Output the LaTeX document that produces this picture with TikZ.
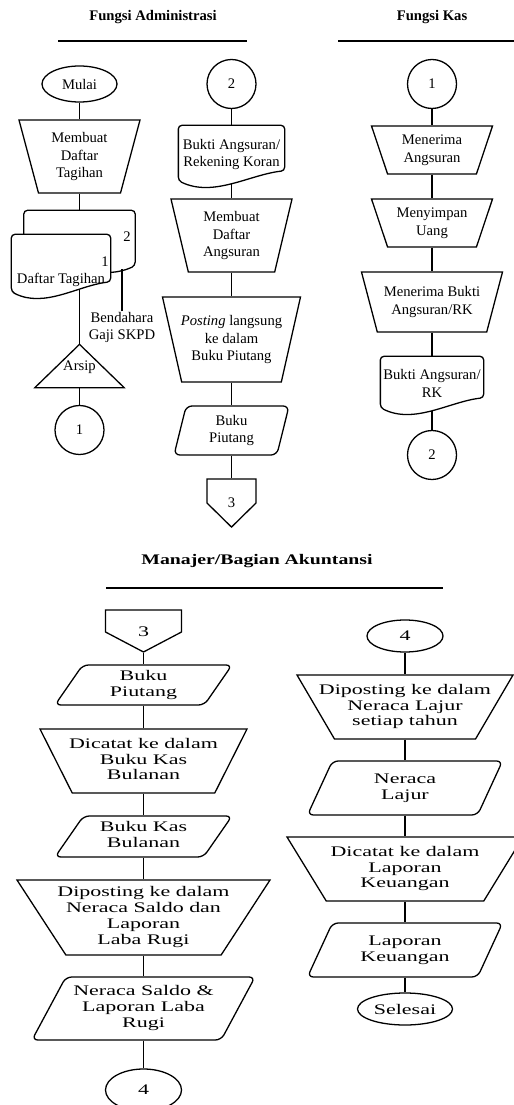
\documentclass[tikz,border=0pt]{standalone}
\usepackage{fontspec}
\setmainfont{Liberation Serif}
\newfontfamily\widefont{Liberation Serif}[FakeStretch=1.5]
\newfontfamily\widetitle{Liberation Serif}[FakeStretch=1.35]
\usepackage{tikz}
\usetikzlibrary{calc}
\usetikzlibrary{shapes.geometric,shapes.symbols,positioning}

\newcommand{\upfont}{\fontsize{12.5}{15}\selectfont}
\newcommand{\lowfont}{\widefont\fontsize{12.5}{13.5}\selectfont}
\newcommand{\lbl}[1]{\makebox[0pt]{\begin{tabular}{@{}c@{}}#1\end{tabular}}}

\begin{document}
\begin{tikzpicture}[x=0.03cm,y=-0.03cm,line width=1.1pt,
    every node/.style={font=\upfont,inner sep=0pt},
    term node/.style={ellipse,draw},
    link node/.style={circle,draw,minimum size=1.47cm},
    proc node/.style={trapezium,draw,shape border rotate=180,trapezium stretches body,
      trapezium left angle=#1,trapezium right angle=#1},
    store node/.style={rectangle,append after command={\pgfextra{
      \draw (\tikzlastnode.south west) -- (\tikzlastnode.north)
        -- (\tikzlastnode.south east) -- cycle;}}},
    data node/.style 2 args={trapezium,draw,rounded corners=5pt,trapezium stretches body,
      trapezium left angle=#1,trapezium right angle=#2},
    page node/.style={signal,draw,signal to=south,signal pointer angle=#1},
    doc shape/.style 2 args={append after command={\pgfextra{
      \draw[fill=white,rounded corners=3pt]
        ([yshift=2.5pt]\tikzlastnode.south #1)
        .. controls ($(\tikzlastnode.south #1)!0.33!(\tikzlastnode.south #2)+(0,-12pt)$)
        and ($(\tikzlastnode.south #1)!0.67!(\tikzlastnode.south #2)+(0,7.7pt)$)
        .. ([yshift=11pt]\tikzlastnode.south #2) -- (\tikzlastnode.north #2)
        -- (\tikzlastnode.north #1) -- cycle;}}},
    doc node/.style={align=center,doc shape={west}{east}},
    doc back/.style={doc shape={east}{west}}]

  \useasboundingbox (0,0) rectangle (514,1105);
  \clip (0,0) rectangle (514,1105);

  % Fungsi Administrasi / Fungsi Kas
  \node[font=\upfont\bfseries] (hadm) at (153,17) {Fungsi Administrasi};
  \node[font=\upfont\bfseries] (hkas) at (432,17) {Fungsi Kas};
  \draw[line width=1.4pt] (58,41) -- (247,41);
  \draw[line width=1.4pt] (338,41) -- (514,41);

  \node[term node,minimum width=2.25cm,minimum height=1.08cm] (mulai) at (79.5,84) {Mulai};
  \node[proc node=69.7,minimum width=3.63cm,minimum height=2.19cm] (tagih) at (79.5,156.5) {\lbl{Membuat\\Daftar\\Tagihan}};
  \node[doc back,minimum width=3.3cm,minimum height=1.71cm] (tagih2) at (79.5,239.5) {};
  \node[doc node,minimum width=2.94cm,text height=1.47cm,text depth=0.3cm] (tagih1) at (61,264.5) {Daftar Tagihan};
  \node (no2) at (127,237) {2};
  \node (no1) at (105,262) {1};
  \node[align=center] (bend) at (122,327.5) {Bendahara\\Gaji SKPD};
  \node[store node,minimum width=2.64cm,minimum height=1.26cm,text depth=0pt] (arsip) at (79.5,366) {Arsip};
  \node[link node] (k1a) at (79.5,430) {1};

  \node[link node] (k2a) at (231.5,84) {2};
  \node[doc node,minimum width=3.15cm,minimum height=1.71cm] (bukti) at (231.5,154.5) {Bukti Angsuran/\\Rekening Koran};
  \node[proc node=71.8,minimum width=3.63cm,minimum height=2.19cm] (angsur) at (231.5,235.5) {\lbl{Membuat\\Daftar\\Angsuran}};
  \node[proc node=70,minimum width=4.14cm,minimum height=2.55cm] (posting) at (231.5,339.5) {\lbl{\textit{Posting} langsung\\ke dalam\\Buku Piutang}};
  \node[data node={70.9}{109.1},minimum width=3.45cm,minimum height=1.47cm] (piutang) at (231.5,430.5) {\lbl{Buku\\Piutang}};
  \node[page node=91,minimum width=1.47cm,minimum height=0.72cm,
        label={[name=p3a,yshift=-0.36cm]center:3}] (hal3a) at (231.5,491) {};

  \node[link node] (k1b) at (432,84) {1};
  \node[proc node=65.4,minimum width=3.63cm,minimum height=1.44cm] (terima) at (432,150) {\lbl{Menerima\\Angsuran}};
  \node[proc node=65.4,minimum width=3.63cm,minimum height=1.44cm] (simpan) at (432,223) {\lbl{Menyimpan\\Uang}};
  \node[proc node=65.8,minimum width=4.23cm,minimum height=1.8cm] (terimab) at (432,302) {\lbl{Menerima Bukti\\Angsuran/RK}};
  \node[doc node,minimum width=3.06cm,minimum height=1.59cm] (bukti2) at (432,383.5) {Bukti Angsuran/\\RK};
  \node[link node] (k2b) at (432,455) {2};

  \path[draw]
    (mulai) edge (tagih)
    (tagih) edge (tagih2)
    (k2a) edge (bukti)
    (bukti) edge (angsur)
    (angsur) edge (posting)
    (posting) edge (piutang)
    (piutang) edge (hal3a)
    (k1b) edge (terima)
    (terima) edge (simpan)
    (simpan) edge (terimab)
    (terimab) edge (bukti2)
    (bukti2) edge (k2b);
  \draw (arsip.south) -- (k1a.north);
  \draw (arsip.north) -- ($(arsip.north |- tagih1.south)+(0,5pt)$);
  \draw (bend.north) -- (bend.north |- tagih2.south);

  % Manajer/Bagian Akuntansi
  \node[font=\widetitle\fontsize{12.5}{15}\selectfont\bfseries] (hman) at (257,561) {Manajer/Bagian Akuntansi};
  \draw[line width=1.4pt] (106,588) -- (443,588);

  \begin{scope}[every node/.append style={font=\lowfont}]
  \node[page node=124.5,minimum width=2.28cm,minimum height=0.66cm,
        label={[name=p3b,yshift=-0.33cm]center:3}] (hal3b) at (143.5,621) {};
  \node[data node={48.8}{131.2},minimum width=5.31cm,minimum height=1.2cm] (piutang2) at (143.5,685) {\lbl{Buku\\Piutang}};
  \node[proc node=55.8,minimum width=6.21cm,minimum height=1.92cm] (kas) at (143.5,761) {\lbl{Dicatat ke dalam\\Buku Kas\\Bulanan}};
  \node[data node={48}{132},minimum width=5.31cm,minimum height=1.23cm] (bukukas) at (143.5,836.5) {\lbl{Buku Kas\\Bulanan}};
  \node[proc node=52.3,minimum width=7.59cm,minimum height=2.25cm] (saldo) at (143.5,917.5) {\lbl{Diposting ke dalam\\Neraca Saldo dan\\Laporan\\Laba Rugi}};
  \node[data node={54.5}{125.5},minimum width=6.69cm,minimum height=1.89cm] (neraca) at (143.5,1008.5) {\lbl{Neraca Saldo \&\\Laporan Laba\\Rugi}};
  \node[term node,minimum width=2.28cm,minimum height=1.26cm] (k4a) at (143.5,1090) {4};

  \node[term node,minimum width=2.28cm,minimum height=0.96cm] (k4b) at (405,636) {4};
  \node[proc node=51.7,minimum width=6.48cm,minimum height=1.92cm] (lajur) at (405,707) {\lbl{Diposting ke dalam\\Neraca Lajur\\setiap tahun}};
  \node[data node={51.8}{128.2},minimum width=5.85cm,minimum height=1.62cm] (nlajur) at (405,788) {\lbl{Neraca\\Lajur}};
  \node[proc node=50.4,minimum width=7.08cm,minimum height=1.92cm] (lapor) at (405,869) {\lbl{Dicatat ke dalam\\Laporan\\Keuangan}};
  \node[data node={51.8}{128.2},minimum width=5.85cm,minimum height=1.62cm] (lapkeu) at (405,950) {\lbl{Laporan\\Keuangan}};
  \node[term node,minimum width=2.85cm,minimum height=0.96cm] (selesai) at (405,1009) {Selesai};
  \end{scope}

  \path[draw]
    (hal3b) edge (piutang2)
    (piutang2) edge (kas)
    (kas) edge (bukukas)
    (bukukas) edge (saldo)
    (saldo) edge (neraca)
    (neraca) edge (k4a)
    (k4b) edge (lajur)
    (lajur) edge (nlajur)
    (nlajur) edge (lapor)
    (lapor) edge (lapkeu)
    (lapkeu) edge (selesai);
\end{tikzpicture}
\end{document}
